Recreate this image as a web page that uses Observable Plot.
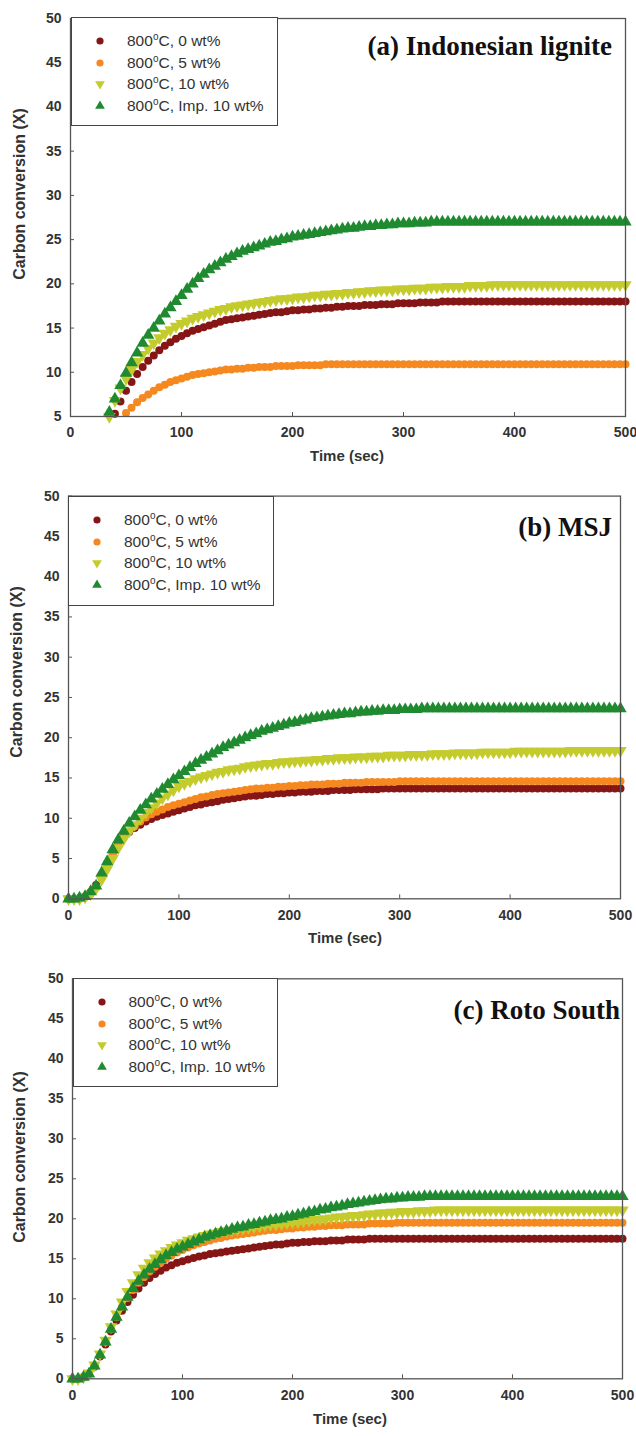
<!DOCTYPE html>
<html>
<head>
<meta charset="utf-8">
<script src="https://cdn.jsdelivr.net/npm/d3@7"></script>
<script src="https://cdn.jsdelivr.net/npm/@observablehq/plot@0.6"></script>
<style>
  html, body { margin: 0; padding: 0; background: #fff; }
  #wrap { position: relative; width: 636px; height: 1436px; overflow: hidden; font-family: "Liberation Sans", Arial, sans-serif; }
  .panel { position: absolute; left: 0; }
  .legend { position: absolute; background: #fff; border: 1.3px solid #444; box-sizing: border-box; }
  .legend .row { position: absolute; left: 0; height: 0; }
  .legend .sym { position: absolute; left: 22px; top: -6px; }
  .legend .txt { position: absolute; left: 55px; top: -9px; font-size: 15.5px; color: #333; white-space: nowrap; line-height: 18px; }
  .legend sup { font-size: 10px; vertical-align: 0; position: relative; top: -6px; }
  .title { position: absolute; font-family: "Liberation Serif", "Times New Roman", serif; font-weight: bold; font-size: 27px; color: #111; white-space: nowrap; transform: translate(-100%, -50%); }
  .ylab { position: absolute; font-weight: bold; font-size: 16px; color: #333; white-space: nowrap; transform: translate(-50%, -50%) rotate(-90deg); }
  .xlab { position: absolute; font-weight: bold; font-size: 15px; color: #333; white-space: nowrap; transform: translate(-50%, -50%); }
</style>
</head>
<body>
<div id="wrap"></div>
<script>
// ---------- data ----------
const times = [
  0, 5, 10, 15, 20, 25, 30, 35, 40, 45,
  50, 55, 60, 65, 70, 75, 80, 85, 90, 95,
  100, 105, 110, 115, 120, 125, 130, 135, 140, 145,
  150, 155, 160, 165, 170, 175, 180, 185, 190, 195,
  200, 205, 210, 215, 220, 225, 230, 235, 240, 245,
  250, 255, 260, 265, 270, 275, 280, 285, 290, 295,
  300, 305, 310, 315, 320, 325, 330, 335, 340, 345,
  350, 355, 360, 365, 370, 375, 380, 385, 390, 395,
  400, 405, 410, 415, 420, 425, 430, 435, 440, 445,
  450, 455, 460, 465, 470, 475, 480, 485, 490, 495,
  500
];
const seriesNames = ["800\u00B0C, 0 wt%", "800\u00B0C, 5 wt%", "800\u00B0C, 10 wt%", "800\u00B0C, Imp. 10 wt%"];
const panelTitles = ["(a) Indonesian lignite", "(b) MSJ", "(c) Roto South"];
const xTicks = [0, 100, 200, 300, 400, 500];
const yTicksA = [5, 10, 15, 20, 25, 30, 35, 40, 45, 50];
const yTicksBC = [0, 5, 10, 15, 20, 25, 30, 35, 40, 45, 50];
const xLabel = "Time (sec)";
const yLabel = "Carbon conversion (X)";

// (a) Indonesian lignite
const a0 = [
  null,null,null,null,null,null,null,null,5.3,6.7,
  7.9,8.9,9.8,10.6,11.3,11.9,12.5,13.0,13.4,13.8,
  14.1,14.4,14.7,14.9,15.1,15.3,15.5,15.7,15.9,16.0,
  16.1,16.2,16.3,16.4,16.5,16.6,16.7,16.8,16.8,16.9,
  17.0,17.0,17.1,17.1,17.2,17.2,17.3,17.3,17.4,17.4,
  17.5,17.5,17.5,17.6,17.6,17.6,17.7,17.7,17.7,17.8,
  17.8,17.8,17.8,17.9,17.9,17.9,17.9,18.0,18.0,18.0,
  18.0,18.0,18.0,18.0,18.0,18.0,18.0,18.0,18.0,18.0,
  18.0,18.0,18.0,18.0,18.0,18.0,18.0,18.0,18.0,18.0,
  18.0,18.0,18.0,18.0,18.0,18.0,18.0,18.0,18.0,18.0,
  18.0
];
const a5 = [
  null,null,null,null,null,null,null,null,null,null,
  5.4,6.0,6.6,7.1,7.5,7.9,8.3,8.6,8.9,9.1,
  9.3,9.5,9.7,9.8,9.9,10.0,10.1,10.2,10.3,10.3,
  10.4,10.4,10.5,10.5,10.6,10.6,10.6,10.7,10.7,10.7,
  10.7,10.8,10.8,10.8,10.8,10.8,10.9,10.9,10.9,10.9,
  10.9,10.9,10.9,10.9,10.9,10.9,10.9,10.9,10.9,10.9,
  10.9,10.9,10.9,10.9,10.9,10.9,10.9,10.9,10.9,10.9,
  10.9,10.9,10.9,10.9,10.9,10.9,10.9,10.9,10.9,10.9,
  10.9,10.9,10.9,10.9,10.9,10.9,10.9,10.9,10.9,10.9,
  10.9,10.9,10.9,10.9,10.9,10.9,10.9,10.9,10.9,10.9,
  10.9
];
const a10 = [
  null,null,null,null,null,null,null,5.0,6.8,8.2,
  9.3,10.3,11.2,12.0,12.7,13.3,13.9,14.4,14.8,15.2,
  15.5,15.8,16.1,16.3,16.5,16.7,16.9,17.1,17.2,17.4,
  17.5,17.6,17.7,17.8,17.9,18.0,18.1,18.2,18.3,18.3,
  18.4,18.5,18.5,18.6,18.7,18.7,18.8,18.8,18.9,18.9,
  19.0,19.0,19.1,19.1,19.2,19.2,19.3,19.3,19.3,19.4,
  19.4,19.4,19.5,19.5,19.5,19.6,19.6,19.6,19.7,19.7,
  19.7,19.7,19.8,19.8,19.8,19.8,19.9,19.9,19.9,19.9,
  19.9,19.9,19.9,19.9,19.9,19.9,19.9,19.9,19.9,19.9,
  19.9,19.9,19.9,19.9,19.9,19.9,19.9,19.9,19.9,19.9,
  19.9
];
const aImp = [
  null,null,null,null,null,null,null,5.5,7.0,8.5,
  9.9,11.1,12.2,13.3,14.2,15.0,15.8,16.6,17.3,18.0,
  18.7,19.4,20.0,20.6,21.1,21.6,22.0,22.4,22.8,23.1,
  23.4,23.7,23.9,24.1,24.3,24.5,24.7,24.8,25.0,25.1,
  25.3,25.4,25.5,25.6,25.7,25.8,25.9,26.0,26.1,26.2,
  26.3,26.3,26.4,26.5,26.5,26.6,26.6,26.7,26.7,26.8,
  26.8,26.8,26.9,26.9,26.9,27.0,27.0,27.0,27.0,27.0,
  27.0,27.0,27.0,27.0,27.0,27.0,27.0,27.0,27.0,27.0,
  27.0,27.0,27.0,27.0,27.0,27.0,27.0,27.0,27.0,27.0,
  27.0,27.0,27.0,27.0,27.0,27.0,27.0,27.0,27.0,27.0,
  27.0
];

// (b) MSJ
const b0 = [
  0.0,0.0,0.1,0.3,0.8,1.7,3.0,4.4,5.7,6.8,
  7.7,8.3,8.8,9.2,9.6,9.9,10.2,10.4,10.6,10.8,
  11.0,11.2,11.4,11.6,11.7,11.9,12.0,12.1,12.3,12.4,
  12.5,12.6,12.7,12.8,12.8,12.9,13.0,13.0,13.1,13.1,
  13.2,13.2,13.3,13.3,13.3,13.4,13.4,13.4,13.5,13.5,
  13.5,13.5,13.6,13.6,13.6,13.6,13.6,13.7,13.7,13.7,
  13.7,13.7,13.7,13.7,13.7,13.7,13.7,13.7,13.7,13.7,
  13.7,13.7,13.7,13.7,13.7,13.7,13.7,13.7,13.7,13.7,
  13.7,13.7,13.7,13.7,13.7,13.7,13.7,13.7,13.7,13.7,
  13.7,13.7,13.7,13.7,13.7,13.7,13.7,13.7,13.7,13.7,
  13.7
];
const b5 = [
  0.0,0.0,0.0,0.2,0.6,1.4,2.6,4.0,5.4,6.6,
  7.6,8.4,9.0,9.6,10.1,10.5,10.8,11.1,11.4,11.6,
  11.8,12.0,12.2,12.4,12.6,12.7,12.9,13.0,13.1,13.2,
  13.3,13.4,13.5,13.6,13.7,13.7,13.8,13.8,13.9,13.9,
  14.0,14.0,14.1,14.1,14.2,14.2,14.2,14.3,14.3,14.3,
  14.4,14.4,14.4,14.4,14.5,14.5,14.5,14.5,14.5,14.5,
  14.6,14.6,14.6,14.6,14.6,14.6,14.6,14.6,14.6,14.6,
  14.6,14.6,14.6,14.6,14.6,14.6,14.6,14.6,14.6,14.6,
  14.6,14.6,14.6,14.6,14.6,14.6,14.6,14.6,14.6,14.6,
  14.6,14.6,14.6,14.6,14.6,14.6,14.6,14.6,14.6,14.6,
  14.6
];
const b10 = [
  0.0,0.0,0.0,0.2,0.6,1.3,2.4,3.7,5.0,6.3,
  7.4,8.4,9.2,10.0,10.7,11.3,11.9,12.5,13.0,13.5,
  14.0,14.3,14.6,14.9,15.1,15.3,15.5,15.7,15.8,16.0,
  16.1,16.2,16.4,16.5,16.6,16.7,16.8,16.8,16.9,17.0,
  17.0,17.1,17.1,17.2,17.2,17.3,17.3,17.4,17.4,17.5,
  17.5,17.5,17.6,17.6,17.6,17.7,17.7,17.7,17.8,17.8,
  17.8,17.8,17.9,17.9,17.9,17.9,18.0,18.0,18.0,18.0,
  18.1,18.1,18.1,18.1,18.1,18.2,18.2,18.2,18.2,18.2,
  18.2,18.3,18.3,18.3,18.3,18.3,18.3,18.3,18.3,18.3,
  18.3,18.4,18.4,18.4,18.4,18.4,18.4,18.4,18.4,18.4,
  18.4
];
const bImp = [
  0.0,0.0,0.1,0.3,0.9,1.6,3.2,4.6,6.1,7.3,
  8.4,9.4,10.2,11.0,11.7,12.4,13.0,13.6,14.2,14.8,
  15.3,15.8,16.3,16.8,17.2,17.6,18.0,18.4,18.8,19.1,
  19.4,19.7,20.0,20.3,20.5,20.8,21.0,21.2,21.4,21.6,
  21.8,21.9,22.1,22.2,22.4,22.5,22.6,22.7,22.8,22.9,
  23.0,23.0,23.1,23.2,23.2,23.3,23.3,23.4,23.4,23.4,
  23.5,23.5,23.5,23.5,23.6,23.6,23.6,23.6,23.6,23.6,
  23.6,23.6,23.6,23.6,23.6,23.6,23.6,23.6,23.6,23.6,
  23.6,23.6,23.6,23.6,23.6,23.6,23.6,23.6,23.6,23.6,
  23.6,23.6,23.6,23.6,23.6,23.6,23.6,23.6,23.6,23.6,
  23.6
];

// (c) Roto South
const c0 = [
  0.0,0.0,0.2,0.6,1.5,2.8,4.3,5.9,7.3,8.5,
  9.6,10.5,11.3,12.0,12.6,13.1,13.5,13.9,14.2,14.5,
  14.7,14.9,15.1,15.3,15.4,15.6,15.7,15.8,15.9,16.0,
  16.1,16.2,16.3,16.4,16.5,16.6,16.7,16.8,16.8,16.9,
  17.0,17.0,17.1,17.1,17.2,17.2,17.2,17.3,17.3,17.3,
  17.4,17.4,17.4,17.4,17.5,17.5,17.5,17.5,17.5,17.5,
  17.5,17.5,17.5,17.5,17.5,17.5,17.5,17.5,17.5,17.5,
  17.5,17.5,17.5,17.5,17.5,17.5,17.5,17.5,17.5,17.5,
  17.5,17.5,17.5,17.5,17.5,17.5,17.5,17.5,17.5,17.5,
  17.5,17.5,17.5,17.5,17.5,17.5,17.5,17.5,17.5,17.5,
  17.5
];
const c5 = [
  0.0,0.0,0.2,0.6,1.6,3.0,4.6,6.2,7.7,9.0,
  10.1,11.1,12.0,12.7,13.4,14.0,14.5,15.0,15.4,15.8,
  16.1,16.4,16.7,16.9,17.1,17.3,17.5,17.6,17.8,17.9,
  18.0,18.1,18.2,18.3,18.4,18.5,18.6,18.6,18.7,18.8,
  18.8,18.9,18.9,19.0,19.0,19.1,19.1,19.2,19.2,19.2,
  19.3,19.3,19.3,19.3,19.4,19.4,19.4,19.4,19.4,19.5,
  19.5,19.5,19.5,19.5,19.5,19.5,19.5,19.5,19.5,19.5,
  19.5,19.5,19.5,19.5,19.5,19.5,19.5,19.5,19.5,19.5,
  19.5,19.5,19.5,19.5,19.5,19.5,19.5,19.5,19.5,19.5,
  19.5,19.5,19.5,19.5,19.5,19.5,19.5,19.5,19.5,19.5,
  19.5
];
const c10 = [
  0.0,0.0,0.2,0.7,1.7,3.1,4.8,6.5,8.1,9.6,
  10.9,12.0,13.0,13.8,14.5,15.1,15.6,16.0,16.4,16.7,
  17.0,17.3,17.5,17.7,17.9,18.1,18.2,18.4,18.5,18.6,
  18.7,18.8,18.9,19.0,19.1,19.2,19.3,19.3,19.4,19.5,
  19.6,19.6,19.7,19.8,19.9,19.9,20.0,20.1,20.2,20.2,
  20.3,20.4,20.4,20.5,20.6,20.6,20.7,20.7,20.8,20.8,
  20.9,20.9,20.9,21.0,21.0,21.0,21.1,21.1,21.1,21.1,
  21.1,21.1,21.1,21.1,21.1,21.1,21.1,21.1,21.1,21.1,
  21.1,21.1,21.1,21.1,21.1,21.1,21.1,21.1,21.1,21.1,
  21.1,21.1,21.1,21.1,21.1,21.1,21.1,21.1,21.1,21.1,
  21.1
];
const cImp = [
  0.0,0.0,0.2,0.6,1.6,3.0,4.6,6.2,7.7,9.0,
  10.2,11.3,12.2,13.0,13.7,14.3,14.9,15.4,15.8,16.2,
  16.5,16.8,17.1,17.4,17.7,17.9,18.1,18.3,18.5,18.7,
  18.9,19.0,19.2,19.3,19.5,19.6,19.8,19.9,20.0,20.2,
  20.3,20.5,20.6,20.8,20.9,21.1,21.2,21.4,21.5,21.6,
  21.8,21.9,22.0,22.1,22.2,22.3,22.4,22.5,22.5,22.6,
  22.6,22.7,22.7,22.7,22.8,22.8,22.8,22.8,22.8,22.8,
  22.8,22.8,22.8,22.8,22.8,22.8,22.8,22.8,22.8,22.8,
  22.8,22.8,22.8,22.8,22.8,22.8,22.8,22.8,22.8,22.8,
  22.8,22.8,22.8,22.8,22.8,22.8,22.8,22.8,22.8,22.8,
  22.8
];

// ---------- styles ----------
const colors = ["#861616", "#f5891f", "#c4cb2c", "#1f8a30"];
const triangleDown = {
  draw(context, size) {
    const y = -Math.sqrt(size / (Math.sqrt(3) * 3));
    context.moveTo(0, -y * 2);
    context.lineTo(-Math.sqrt(3) * y, y);
    context.lineTo(Math.sqrt(3) * y, y);
    context.closePath();
  }
};
const symbols = [d3.symbolCircle, d3.symbolCircle, triangleDown, d3.symbolTriangle];
const radii = [4.0, 4.0, 4.6, 4.6];

const panels = [
  {series: [a0, a5, a10, aImp], yDomain: [5, 50], yTicks: yTicksA, top: 0, height: 470,
   m: {top: 18, bottom: 54, left: 70, right: 11},
   legend: {left: 71, top: 17, w: 207, h: 109}, title: {x: 612, y: 46},
   ylab: {x: 20, y: 194}, xlab: {x: 347, y: 455}},
  {series: [b0, b5, b10, bImp], yDomain: [0, 50], yTicks: yTicksBC, top: 480, height: 470,
   m: {top: 15.6, bottom: 51.7, left: 68, right: 16},
   legend: {left: 68, top: 496, w: 206, h: 110}, title: {x: 612, y: 527},
   ylab: {x: 17, y: 672}, xlab: {x: 345, y: 937}},
  {series: [c0, c5, c10, cImp], yDomain: [0, 50], yTicks: yTicksBC, top: 960, height: 476,
   m: {top: 18.3, bottom: 57.7, left: 72, right: 14},
   legend: {left: 72.5, top: 978, w: 205, h: 109}, title: {x: 620, y: 1010},
   ylab: {x: 20, y: 1157}, xlab: {x: 350, y: 1418}}
];

const wrap = document.getElementById("wrap");

panels.forEach((p, pi) => {
  const innerH = p.height - p.m.top - p.m.bottom;
  const innerW = 636 - p.m.left - p.m.right;
  const dotMarks = p.series.map((vals, si) => {
    const rows = times.map((t, i) => ({t, v: vals[i]})).filter(d => d.v != null);
    return Plot.dot(rows, {x: "t", y: "v", symbol: () => symbols[si], r: radii[si], fill: colors[si], stroke: "none"});
  });
  const chart = Plot.plot({
    width: 636, height: p.height,
    marginTop: p.m.top, marginBottom: p.m.bottom, marginLeft: p.m.left, marginRight: p.m.right,
    x: {domain: [0, 500]},
    y: {domain: p.yDomain},
    symbol: {type: "identity"},
    style: {fontFamily: "'Liberation Sans', Arial, sans-serif", color: "#333", background: "transparent"},
    marks: [
      Plot.tickX(xTicks, {x: d => d, insetTop: innerH - 4, stroke: "#555"}),
      Plot.tickY(p.yTicks, {y: d => d, insetRight: innerW - 4, stroke: "#555"}),
      Plot.axisX({ticks: xTicks, tickSize: 0, tickPadding: 11, fontSize: 14, fontWeight: "bold", label: null}),
      Plot.axisY({ticks: p.yTicks, tickSize: 0, tickPadding: 9, fontSize: 14, fontWeight: "bold", label: null}),
      ...dotMarks,
      Plot.frame({stroke: "#555", strokeWidth: 1.3})
    ]
  });
  chart.classList.add("panel");
  chart.style.top = p.top + "px";
  wrap.appendChild(chart);

  // legend box
  const lg = document.createElement("div");
  lg.className = "legend";
  Object.assign(lg.style, {left: p.legend.left + "px", top: p.legend.top + "px", width: p.legend.w + "px", height: p.legend.h + "px"});
  const rowY = [23, 44.7, 66.3, 88];
  seriesNames.forEach((name, si) => {
    const row = document.createElement("div");
    row.className = "row";
    row.style.top = rowY[si] + "px";
    const svg = d3.create("svg").attr("class", "sym").attr("width", 12).attr("height", 12);
    svg.append("path")
      .attr("transform", "translate(6,6)")
      .attr("d", d3.symbol(symbols[si], Math.PI * 3.6 * 3.6)())
      .attr("fill", colors[si]);
    row.appendChild(svg.node());
    const txt = document.createElement("div");
    txt.className = "txt";
    const parts = name.split("\u00B0");
    txt.innerHTML = parts[0] + "<sup>o</sup>" + parts[1];
    row.appendChild(txt);
    lg.appendChild(row);
  });
  wrap.appendChild(lg);

  const ti = document.createElement("div");
  ti.className = "title";
  ti.textContent = panelTitles[pi];
  ti.style.left = p.title.x + "px";
  ti.style.top = p.title.y + "px";
  wrap.appendChild(ti);

  const yl = document.createElement("div");
  yl.className = "ylab";
  yl.textContent = yLabel;
  yl.style.left = p.ylab.x + "px";
  yl.style.top = p.ylab.y + "px";
  wrap.appendChild(yl);

  const xl = document.createElement("div");
  xl.className = "xlab";
  xl.textContent = xLabel;
  xl.style.left = p.xlab.x + "px";
  xl.style.top = p.xlab.y + "px";
  wrap.appendChild(xl);
});
</script>
</body>
</html>
